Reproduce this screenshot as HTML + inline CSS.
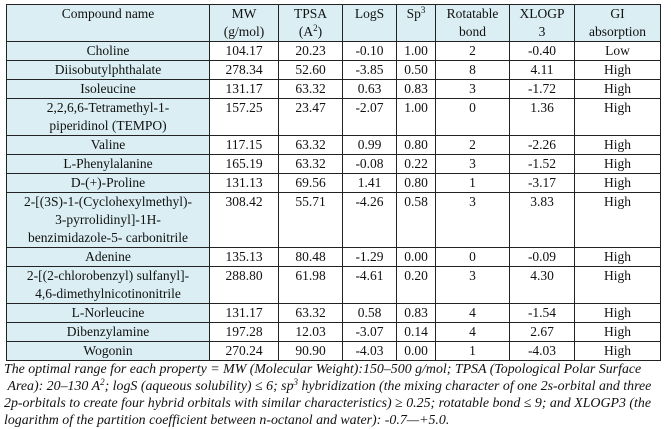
<!DOCTYPE html>
<html><head><meta charset="utf-8"><style>
html,body{margin:0;padding:0;background:#fff;width:671px;height:429px;overflow:hidden}
body{font-family:"Liberation Serif","DejaVu Serif",serif;color:#111}
table{position:absolute;left:6px;top:4px;border-collapse:collapse;table-layout:fixed;font-size:13.5px}
td{border:1px solid #222;text-align:center;vertical-align:top;line-height:18px;padding:0 2px;white-space:nowrap}
tr td:first-child{background:#daeef3}
tr.h td{background:#daeef3}
.cap{position:absolute;left:4px;top:361px;font-style:italic;font-size:13.9px;line-height:17px;white-space:nowrap;color:#111}
sup{font-size:9px;line-height:0;vertical-align:5px}
</style></head><body>
<table>
<colgroup><col style="width:203px"><col style="width:69px"><col style="width:64px"><col style="width:54px"><col style="width:39px"><col style="width:74px"><col style="width:65px"><col style="width:86px"></colgroup>
<tr class="h"><td>Compound name</td><td>MW<br>(g/mol)</td><td>TPSA<br>(A<sup>2</sup>)</td><td>LogS</td><td>Sp<sup>3</sup></td><td>Rotatable<br>bond</td><td>XLOGP<br>3</td><td>GI<br>absorption</td></tr>
<tr><td>Choline</td><td>104.17</td><td>20.23</td><td>-0.10</td><td>1.00</td><td>2</td><td>-0.40</td><td>Low</td></tr>
<tr><td>Diisobutylphthalate</td><td>278.34</td><td>52.60</td><td>-3.85</td><td>0.50</td><td>8</td><td>4.11</td><td>High</td></tr>
<tr><td>Isoleucine</td><td>131.17</td><td>63.32</td><td>0.63</td><td>0.83</td><td>3</td><td>-1.72</td><td>High</td></tr>
<tr><td>2,2,6,6-Tetramethyl-1-<br>piperidinol (TEMPO)</td><td>157.25</td><td>23.47</td><td>-2.07</td><td>1.00</td><td>0</td><td>1.36</td><td>High</td></tr>
<tr><td>Valine</td><td>117.15</td><td>63.32</td><td>0.99</td><td>0.80</td><td>2</td><td>-2.26</td><td>High</td></tr>
<tr><td>L-Phenylalanine</td><td>165.19</td><td>63.32</td><td>-0.08</td><td>0.22</td><td>3</td><td>-1.52</td><td>High</td></tr>
<tr><td>D-(+)-Proline</td><td>131.13</td><td>69.56</td><td>1.41</td><td>0.80</td><td>1</td><td>-3.17</td><td>High</td></tr>
<tr><td>2-[(3S)-1-(Cyclohexylmethyl)-<br>3-pyrrolidinyl]-1H-<br>benzimidazole-5- carbonitrile</td><td>308.42</td><td>55.71</td><td>-4.26</td><td>0.58</td><td>3</td><td>3.83</td><td>High</td></tr>
<tr><td>Adenine</td><td>135.13</td><td>80.48</td><td>-1.29</td><td>0.00</td><td>0</td><td>-0.09</td><td>High</td></tr>
<tr><td>2-[(2-chlorobenzyl) sulfanyl]-<br>4,6-dimethylnicotinonitrile</td><td>288.80</td><td>61.98</td><td>-4.61</td><td>0.20</td><td>3</td><td>4.30</td><td>High</td></tr>
<tr><td>L-Norleucine</td><td>131.17</td><td>63.32</td><td>0.58</td><td>0.83</td><td>4</td><td>-1.54</td><td>High</td></tr>
<tr><td>Dibenzylamine</td><td>197.28</td><td>12.03</td><td>-3.07</td><td>0.14</td><td>4</td><td>2.67</td><td>High</td></tr>
<tr><td>Wogonin</td><td>270.24</td><td>90.90</td><td>-4.03</td><td>0.00</td><td>1</td><td>-4.03</td><td>High</td></tr>
</table>
<div class="cap">The optimal range for each property = MW (Molecular Weight):150–500 g/mol; TPSA (Topological Polar Surface<br>&nbsp;Area): 20–130 A<sup>2</sup>; logS (aqueous solubility) ≤ 6; sp<sup>3</sup> hybridization (the mixing character of one 2s-orbital and three<br>2p-orbitals to create four hybrid orbitals with similar characteristics) ≥ 0.25; rotatable bond ≤ 9; and XLOGP3 (the<br>logarithm of the partition coefficient between n-octanol and water): -0.7—+5.0.</div>
</body></html>
